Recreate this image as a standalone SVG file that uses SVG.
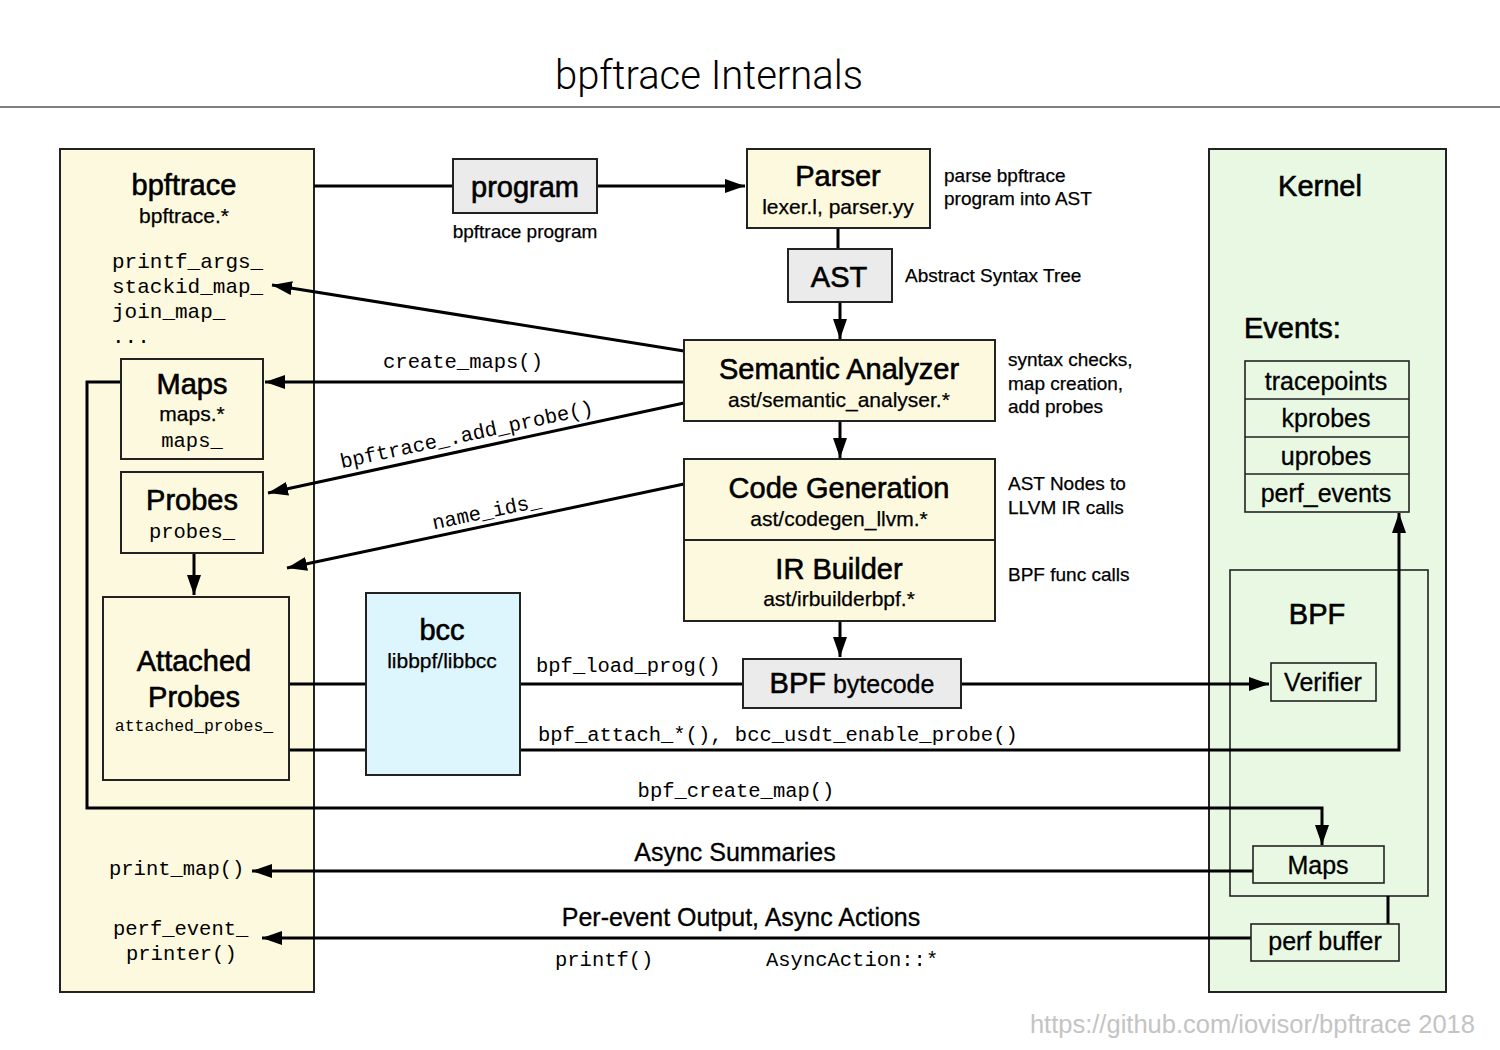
<svg xmlns="http://www.w3.org/2000/svg" width="1500" height="1050" viewBox="0 0 1500 1050">
<defs>
<marker id="ar" viewBox="0 0 20 14" refX="20" refY="7" markerWidth="20" markerHeight="14" markerUnits="userSpaceOnUse" orient="auto"><path d="M0,0 L20,7 L0,14 z" fill="#000"/></marker>
<style>
.box{stroke:#222;stroke-width:2}
.thin{stroke:#222;stroke-width:1.6}
.y{fill:#FDF9DF}
.gr{fill:#EBEBEB}
.k{fill:#E8F8E3}
.b{fill:#DDF5FC}
.c{stroke:#000;stroke-width:3;fill:none}
text{font-family:"Liberation Sans",Arial,Helvetica,sans-serif;fill:#000}
.h{font-size:29px;stroke:#000;stroke-width:0.6}
.s{font-size:21px;stroke:#000;stroke-width:0.25}
.n{font-size:19px;stroke:#000;stroke-width:0.25}
.e{font-size:25px;stroke:#000;stroke-width:0.3}
.m{font-family:"Liberation Mono","Courier New",monospace;font-size:20.5px}
.mid{text-anchor:middle}
</style>
</defs>
<rect width="1500" height="1050" fill="#fff"/>
<g id="title">
<text x="709" y="89" class="mid" style="font-family:Roboto,'Liberation Sans',sans-serif;font-weight:300;font-size:40px">bpftrace Internals</text>
<line x1="0" y1="107" x2="1500" y2="107" stroke="#555" stroke-width="1.5"/>
</g>
<g id="bpftrace">
<rect x="60" y="149" width="254" height="843" class="y box"/>
<text x="184" y="195" class="h mid">bpftrace</text>
<text x="184" y="223" class="s mid">bpftrace.*</text>
<text x="112" y="268" class="m" style="font-size:21px">printf_args_</text>
<text x="112" y="293" class="m" style="font-size:21px">stackid_map_</text>
<text x="112" y="318" class="m" style="font-size:21px">join_map_</text>
<text x="112" y="343" class="m" style="font-size:21px">...</text>
<text x="109" y="875" class="m">print_map()</text>
<text x="113" y="935" class="m">perf_event_</text>
<text x="126" y="960" class="m">printer()</text>
</g>
<g id="kernel">
<rect x="1209" y="149" width="237" height="843" class="k box"/>
<text x="1320" y="196" class="h mid">Kernel</text>
<text x="1244" y="338" class="h">Events:</text>
</g>
<g id="bpf">
<rect x="1230" y="570" width="198" height="326" fill="none" class="thin"/>
<text x="1317" y="624" class="h mid">BPF</text>
</g>
<g id="connectors">
<path class="c" d="M314,186 H453"/>
<path class="c" d="M597,186 H745" marker-end="url(#ar)"/>
<path class="c" d="M838,228 V249"/>
<path class="c" d="M840,302 V339" marker-end="url(#ar)"/>
<path class="c" d="M684,351 L272,285" marker-end="url(#ar)"/>
<path class="c" d="M684,382 H265" marker-end="url(#ar)"/>
<path class="c" d="M684,403 L268,493" marker-end="url(#ar)"/>
<path class="c" d="M684,484 L287,568" marker-end="url(#ar)"/>
<path class="c" d="M840,421 V458" marker-end="url(#ar)"/>
<path class="c" d="M840,621 V657" marker-end="url(#ar)"/>
<path class="c" d="M194,553 V595" marker-end="url(#ar)"/>
<path class="c" d="M289,684 H366"/>
<path class="c" d="M520,684 H743"/>
<path class="c" d="M961,684 H1269" marker-end="url(#ar)"/>
<path class="c" d="M286,750 H366"/>
<path class="c" d="M520,750 H1399 V513" marker-end="url(#ar)"/>
<path class="c" d="M121,382 H87 V808 H1322 V845" marker-end="url(#ar)"/>
<path class="c" d="M1253,871 H252" marker-end="url(#ar)"/>
<path class="c" d="M1251,938 H262" marker-end="url(#ar)"/>
<path class="c" d="M1388,896 V924"/>
<text x="463" y="368" class="m mid">create_maps()</text>
<text transform="translate(468,441) rotate(-12.2)" class="m mid">bpftrace_.add_probe()</text>
<text transform="translate(488,518) rotate(-11.9)" class="m mid">name_ids_</text>
<text x="536" y="672" class="m">bpf_load_prog()</text>
<text x="538" y="741" class="m">bpf_attach_*(), bcc_usdt_enable_probe()</text>
<text x="736" y="797" class="m mid">bpf_create_map()</text>
<text x="735" y="861" class="e mid">Async Summaries</text>
<text x="741" y="926" class="e mid">Per-event Output, Async Actions</text>
<text x="555" y="966" class="m">printf()</text>
<text x="766" y="966" class="m">AsyncAction::*</text>
</g>
<g id="maps">
<rect x="121" y="359" width="142" height="100" class="y box"/>
<text x="192" y="394" class="h mid">Maps</text>
<text x="192" y="421" class="s mid">maps.*</text>
<text x="192" y="447" class="m mid">maps_</text>
</g>
<g id="probes">
<rect x="121" y="472" width="142" height="81" class="y box"/>
<text x="192" y="510" class="h mid">Probes</text>
<text x="192" y="538" class="m mid">probes_</text>
</g>
<g id="attached">
<rect x="103" y="597" width="186" height="183" class="y box"/>
<text x="194" y="671" class="h mid">Attached</text>
<text x="194" y="707" class="h mid">Probes</text>
<text x="194" y="731" class="m mid" style="font-size:16.5px">attached_probes_</text>
</g>
<g id="program">
<rect x="453" y="159" width="144" height="54" class="gr box"/>
<text x="525" y="197" class="h mid">program</text>
<text x="525" y="238" class="n mid">bpftrace program</text>
</g>
<g id="parser">
<rect x="747" y="149" width="183" height="79" class="y box"/>
<text x="838" y="186" class="h mid">Parser</text>
<text x="838" y="214" class="s mid">lexer.l, parser.yy</text>
<text x="944" y="182" class="n">parse bpftrace</text>
<text x="944" y="205" class="n">program into AST</text>
</g>
<g id="ast">
<rect x="788" y="249" width="104" height="53" class="gr box"/>
<text x="839" y="287" class="h mid">AST</text>
<text x="905" y="282" class="n">Abstract Syntax Tree</text>
</g>
<g id="semantic">
<rect x="684" y="340" width="311" height="81" class="y box"/>
<text x="839" y="379" class="h mid">Semantic Analyzer</text>
<text x="839" y="407" class="s mid">ast/semantic_analyser.*</text>
<text x="1008" y="366" class="n">syntax checks,</text>
<text x="1008" y="390" class="n">map creation,</text>
<text x="1008" y="413" class="n">add probes</text>
</g>
<g id="codegen">
<rect x="684" y="459" width="311" height="81" class="y box"/>
<text x="839" y="498" class="h mid">Code Generation</text>
<text x="839" y="526" class="s mid">ast/codegen_llvm.*</text>
<text x="1008" y="490" class="n">AST Nodes to</text>
<text x="1008" y="514" class="n">LLVM IR calls</text>
</g>
<g id="irbuilder">
<rect x="684" y="540" width="311" height="81" class="y box"/>
<text x="839" y="579" class="h mid">IR Builder</text>
<text x="839" y="606" class="s mid">ast/irbuilderbpf.*</text>
<text x="1008" y="581" class="n">BPF func calls</text>
</g>
<g id="bytecode">
<rect x="743" y="659" width="218" height="49" class="gr box"/>
<text x="852" y="693" class="mid"><tspan class="h">BPF</tspan><tspan class="e"> bytecode</tspan></text>
</g>
<g id="bcc">
<rect x="366" y="593" width="154" height="182" class="b box"/>
<text x="442" y="640" class="h mid">bcc</text>
<text x="442" y="668" class="s mid">libbpf/libbcc</text>
</g>
<g id="events">
<rect x="1245" y="361" width="164" height="151" fill="none" class="thin"/>
<line x1="1245" y1="399" x2="1409" y2="399" class="thin"/>
<line x1="1245" y1="437" x2="1409" y2="437" class="thin"/>
<line x1="1245" y1="474" x2="1409" y2="474" class="thin"/>
<text x="1326" y="390" class="e mid">tracepoints</text>
<text x="1326" y="427" class="e mid">kprobes</text>
<text x="1326" y="465" class="e mid">uprobes</text>
<text x="1326" y="502" class="e mid">perf_events</text>
</g>
<g id="verifier">
<rect x="1271" y="663" width="105" height="38" class="k thin"/>
<text x="1323" y="691" class="e mid">Verifier</text>
</g>
<g id="kmaps">
<rect x="1253" y="846" width="131" height="37" class="k thin"/>
<text x="1318" y="874" class="e mid">Maps</text>
</g>
<g id="perfbuffer">
<rect x="1251" y="924" width="148" height="37" class="k thin"/>
<text x="1325" y="950" class="e mid">perf buffer</text>
</g>
<g id="footer">
<text x="1475" y="1033" style="text-anchor:end;font-size:25.5px;fill:#c4c4c4">https://github.com/iovisor/bpftrace 2018</text>
</g>
</svg>
